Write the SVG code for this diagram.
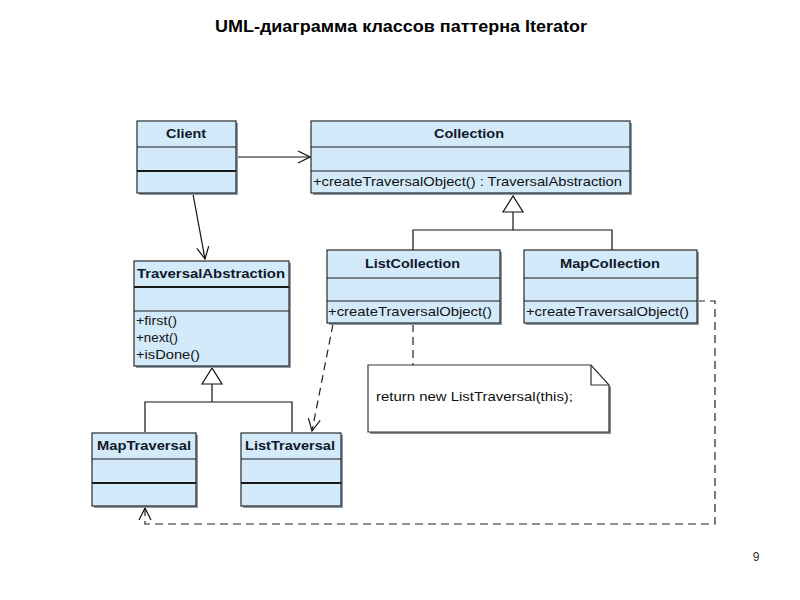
<svg xmlns="http://www.w3.org/2000/svg" width="800" height="600" viewBox="0 0 800 600">
<style>
.box{fill:#d2eafa;stroke:#2a2a2a;stroke-width:1.2}
.shadow{fill:#8a9aa6}
.sep{stroke:#1a1a1a;stroke-width:1.2}
.sep2{stroke:#1a1a1a;stroke-width:2}
.name{font-family:"Liberation Sans",Arial,sans-serif;font-size:13px;font-weight:bold;fill:#111827;text-anchor:middle}
.op{font-family:"Liberation Sans",Arial,sans-serif;font-size:13px;fill:#111}
.line{fill:none;stroke:#111;stroke-width:1.2}
.dash{fill:none;stroke:#222;stroke-width:1.2;stroke-dasharray:8,5}
.tri{fill:#fff;stroke:#111;stroke-width:1.2}
</style>
<defs>
<marker id="open" viewBox="0 0 14 14" refX="13" refY="7" markerWidth="14" markerHeight="14" markerUnits="userSpaceOnUse" orient="auto">
<path d="M1,1 L13,7 L1,13" fill="none" stroke="#111" stroke-width="1.2"/>
</marker>
</defs>
<rect width="800" height="600" fill="#fff"/>
<text x="401" y="32" font-family="'Liberation Sans',Arial,sans-serif" font-size="16" font-weight="bold" text-anchor="middle" fill="#000" textLength="372" lengthAdjust="spacingAndGlyphs">UML-диаграмма классов паттерна Iterator</text>
<text x="756" y="561" font-family="'Liberation Sans',Arial,sans-serif" font-size="12" text-anchor="middle" fill="#333">9</text>

<g id="connectors">
<line class="line" x1="236" y1="157" x2="310" y2="157" marker-end="url(#open)"/>
<line class="line" x1="193" y1="194" x2="205" y2="259" marker-end="url(#open)"/>
<polyline class="line" points="413,250 413,230 612,230 612,250"/>
<line class="line" x1="513" y1="230" x2="513" y2="212"/>
<polygon class="tri" points="513,196 503,212 523,212"/>
<polyline class="line" points="145,432 145,402 292,402 292,432"/>
<line class="line" x1="212" y1="402" x2="212" y2="384"/>
<polygon class="tri" points="212,368 202,384 222,384"/>
<line class="dash" x1="333" y1="324" x2="312" y2="431" marker-end="url(#open)"/>
<line class="dash" x1="413" y1="324" x2="413" y2="365"/>
<polyline class="dash" points="697,301 715,301 715,524 145,524 145,508" marker-end="url(#open)"/>
</g>

<g id="Client">
<rect class="shadow" x="139" y="123" width="99" height="72"/>
<rect class="box" x="137" y="121" width="99" height="72"/>
<line class="sep" x1="137" y1="147" x2="236" y2="147"/>
<line class="sep2" x1="137" y1="171" x2="236" y2="171"/>
<text class="name" x="186" y="138" textLength="40" lengthAdjust="spacingAndGlyphs">Client</text>
</g>

<g id="Collection">
<rect class="shadow" x="313" y="123" width="319" height="72"/>
<rect class="box" x="311" y="121" width="319" height="72"/>
<line class="sep" x1="311" y1="147" x2="630" y2="147"/>
<line class="sep" x1="311" y1="171" x2="630" y2="171"/>
<text class="name" x="469" y="138" textLength="70" lengthAdjust="spacingAndGlyphs">Collection</text>
<text class="op" x="313" y="186" textLength="309" lengthAdjust="spacingAndGlyphs">+createTraversalObject() : TraversalAbstraction</text>
</g>

<g id="ListCollection">
<rect class="shadow" x="329" y="252" width="173" height="73"/>
<rect class="box" x="327" y="250" width="173" height="73"/>
<line class="sep" x1="327" y1="278" x2="500" y2="278"/>
<line class="sep" x1="327" y1="301" x2="500" y2="301"/>
<text class="name" x="412.5" y="268" textLength="95" lengthAdjust="spacingAndGlyphs">ListCollection</text>
<text class="op" x="328" y="316" textLength="164" lengthAdjust="spacingAndGlyphs">+createTraversalObject()</text>
</g>

<g id="MapCollection">
<rect class="shadow" x="526" y="252" width="173" height="73"/>
<rect class="box" x="524" y="250" width="173" height="73"/>
<line class="sep" x1="524" y1="278" x2="697" y2="278"/>
<line class="sep" x1="524" y1="301" x2="697" y2="301"/>
<text class="name" x="610" y="268" textLength="100" lengthAdjust="spacingAndGlyphs">MapCollection</text>
<text class="op" x="526" y="316" textLength="163" lengthAdjust="spacingAndGlyphs">+createTraversalObject()</text>
</g>

<g id="TraversalAbstraction">
<rect class="shadow" x="136" y="263" width="155" height="105"/>
<rect class="box" x="134" y="261" width="155" height="105"/>
<line class="sep2" x1="134" y1="287" x2="289" y2="287"/>
<line class="sep" x1="134" y1="311" x2="289" y2="311"/>
<text class="name" x="211" y="278" textLength="148" lengthAdjust="spacingAndGlyphs">TraversalAbstraction</text>
<text class="op" x="136" y="325" textLength="41" lengthAdjust="spacingAndGlyphs">+first()</text>
<text class="op" x="136" y="342" textLength="42" lengthAdjust="spacingAndGlyphs">+next()</text>
<text class="op" x="136" y="359" textLength="64" lengthAdjust="spacingAndGlyphs">+isDone()</text>
</g>

<g id="MapTraversal">
<rect class="shadow" x="94" y="435" width="104" height="73"/>
<rect class="box" x="92" y="433" width="104" height="73"/>
<line class="sep" x1="92" y1="459" x2="196" y2="459"/>
<line class="sep2" x1="92" y1="483" x2="196" y2="483"/>
<text class="name" x="144" y="450" textLength="94" lengthAdjust="spacingAndGlyphs">MapTraversal</text>
</g>

<g id="ListTraversal">
<rect class="shadow" x="243" y="435" width="100" height="73"/>
<rect class="box" x="241" y="433" width="100" height="73"/>
<line class="sep" x1="241" y1="459" x2="341" y2="459"/>
<line class="sep2" x1="241" y1="483" x2="341" y2="483"/>
<text class="name" x="290" y="450" textLength="90" lengthAdjust="spacingAndGlyphs">ListTraversal</text>
</g>

<g id="Note">
<path d="M370,367 L593,367 L611,387 L611,434 L370,434 Z" fill="#8a8a8a"/>
<path d="M368,365 L591,365 L609,385 L609,432 L368,432 Z" fill="#fff" stroke="#333" stroke-width="1.2"/>
<path d="M591,365 L591,385 L609,385" fill="none" stroke="#333" stroke-width="1.2"/>
<text class="op" x="376" y="401" textLength="197" lengthAdjust="spacingAndGlyphs">return new ListTraversal(this);</text>
</g>
</svg>
